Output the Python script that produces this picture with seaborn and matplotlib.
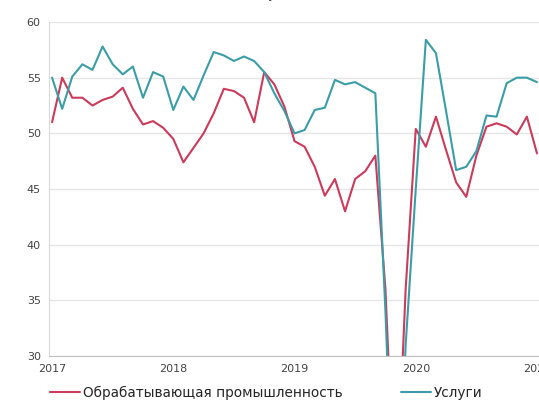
import pandas as pd
import numpy as np
import seaborn as sns
import matplotlib.pyplot as plt

# monthly PMI readings, Jan 2017 .. Jan 2021
manuf = [51.0, 55.0, 53.2, 53.2, 52.5, 53.0, 53.3, 54.1, 52.2, 50.8, 51.1, 50.5,
         49.5, 47.4, 48.7, 50.0, 51.8, 54.0, 53.8, 53.2, 51.0, 55.5, 54.4, 52.4,
         49.3, 48.8, 47.0, 44.4, 45.9, 43.0, 45.9, 46.6, 48.0, 36.0, 15.0, 36.0,
         50.4, 48.8, 51.5, 48.5, 45.6, 44.3, 48.0, 50.6, 50.9, 50.6, 49.9, 51.5,
         48.2]
services = [55.0, 52.2, 55.1, 56.2, 55.7, 57.8, 56.2, 55.3, 56.0, 53.2, 55.5, 55.1,
            52.1, 54.2, 53.0, 55.2, 57.3, 57.0, 56.5, 56.9, 56.5, 55.5, 53.6, 52.0,
            50.0, 50.3, 52.1, 52.3, 54.8, 54.4, 54.6, 54.1, 53.6, 34.0, 10.0, 31.0,
            45.0, 58.4, 57.2, 52.0, 46.7, 47.0, 48.4, 51.6, 51.5, 54.5, 55.0, 55.0,
            54.6]
labels = ["Обрабатывающая промышленность", "Услуги"]
years = ["2017", "2018", "2019", "2020", "2021"]
colors = ["#cc3a5c", "#3b9ea6"]

month = np.arange(len(manuf))
df = pd.DataFrame({
    "month": np.concatenate([month, month]),
    "value": manuf + services,
    "series": [labels[0]] * len(manuf) + [labels[1]] * len(services),
})

sns.set_style("white")
fig = plt.figure(figsize=(5.39, 4.07), dpi=100)
ax = fig.add_axes([0.091, 0.125, 0.909, 0.821])

sns.lineplot(data=df, x="month", y="value", hue="series", palette=colors,
             linewidth=1.5, ax=ax, legend=False)

ax.set_xlim(-0.3, 48.2)
ax.set_ylim(30, 60)
ax.set_xticks(np.arange(0, 49, 12))
ax.set_xticklabels(years)
ax.set_yticks(np.arange(30, 61, 5))
ax.yaxis.grid(True, color="#e6e6e6", linewidth=1)
ax.set_axisbelow(True)
ax.tick_params(axis="both", labelsize=8, colors="#444444", length=0, pad=6)
ax.set_xlabel("")
ax.set_ylabel("")
for s in ["top", "right"]:
    ax.spines[s].set_visible(False)
ax.spines["left"].set_color("#d9d9d9")
ax.spines["bottom"].set_color("#bfbfbf")

handles = [plt.Line2D([], [], color=c, linewidth=1.5) for c in colors]
fig.legend(handles, labels, loc="lower left", bbox_to_anchor=(0.07, -0.012),
           ncol=2, frameon=False, fontsize=9.8, handlelength=2.2,
           handletextpad=0.2, columnspacing=4.3)

fig.text(0.5, 0.997, "PMI, пункты", ha="center", va="bottom", fontsize=9, color="#444444")

fig.savefig("out.png", dpi=100)
